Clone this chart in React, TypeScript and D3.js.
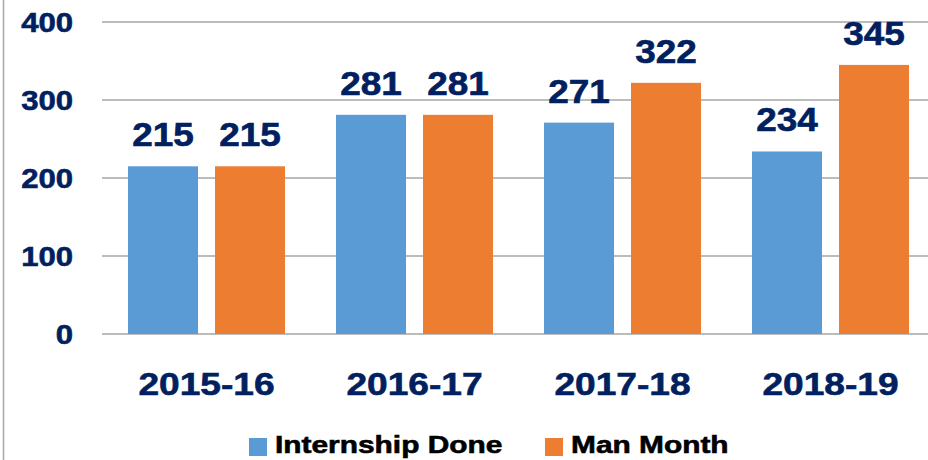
import React from "react";
import * as d3 from "d3";

const categories = ["2015-16", "2016-17", "2017-18", "2018-19"];
const seriesNames = ["Internship Done", "Man Month"];
const internshipDone = [215, 281, 271, 234];
const manMonth = [215, 281, 322, 345];
const yTicks = [0, 100, 200, 300, 400];
const colors = ["#5B9BD5", "#ED7D31"];

const W = 928;
const H = 460;
const FONT = "'Liberation Sans', Arial, sans-serif";
const NAVY = "#002060";

function SText({ x, y, anchor = "middle", sx = 1.12, size, fill = NAVY, children }: any) {
  return (
    <text
      transform={`translate(${x},${y}) scale(${sx},1)`}
      textAnchor={anchor}
      fontFamily={FONT}
      fontWeight="bold"
      fontSize={size}
      fill={fill}
      stroke={fill}
      strokeWidth={0.6}
    >
      {children}
    </text>
  );
}

export default function App() {
  const x0 = d3.scaleBand<string>().domain(categories).range([102.5, 934.5]).padding(0);
  const x1 = d3
    .scaleBand<string>()
    .domain(seriesNames)
    .range([25.5, x0.bandwidth() - 25.5])
    .paddingInner(17 / 87)
    .paddingOuter(0);
  const y = d3.scaleLinear().domain([0, 400]).range([334, 22]);
  const data = [internshipDone, manMonth];

  return (
    <svg width={W} height={H} style={{ display: "block", position: "absolute", left: 0, top: 0 }}>
      <rect x={0} y={0} width={W} height={H} fill="#fff" />
      <line x1={3.5} x2={3.5} y1={0} y2={H} stroke="#A6A6A6" strokeWidth={1.5} />
      {yTicks.map((t) => (
        <g key={t}>
          <line x1={102} x2={W} y1={y(t)} y2={y(t)} stroke="#A6A6A6" strokeWidth={1.3} />
          <SText x={73} y={y(t) + 10} anchor="end" size={28} sx={1.11}>
            {t}
          </SText>
        </g>
      ))}
      {categories.map((c, i) => (
        <g key={c} transform={`translate(${x0(c)},0)`}>
          {seriesNames.map((s, j) => {
            const v = data[j][i];
            const bx = x1(s)!;
            return (
              <g key={s}>
                <rect x={bx} y={y(v)} width={x1.bandwidth()} height={y(0) - y(v)} fill={colors[j]} />
                <SText x={bx + x1.bandwidth() / 2} y={y(v) - 20} size={33} sx={1.12}>
                  {v}
                </SText>
              </g>
            );
          })}
          <SText x={x0.bandwidth() / 2} y={395} size={32} sx={1.16}>
            {c}
          </SText>
        </g>
      ))}
      {seriesNames.map((s, j) => {
        const lx = j === 0 ? 249 : 545;
        return (
          <g key={s}>
            <rect x={lx} y={438} width={18} height={18} fill={colors[j]} />
            <SText x={lx + 26} y={453} anchor="start" size={24.5} sx={1.22} fill="#000">
              {s}
            </SText>
          </g>
        );
      })}
    </svg>
  );
}
